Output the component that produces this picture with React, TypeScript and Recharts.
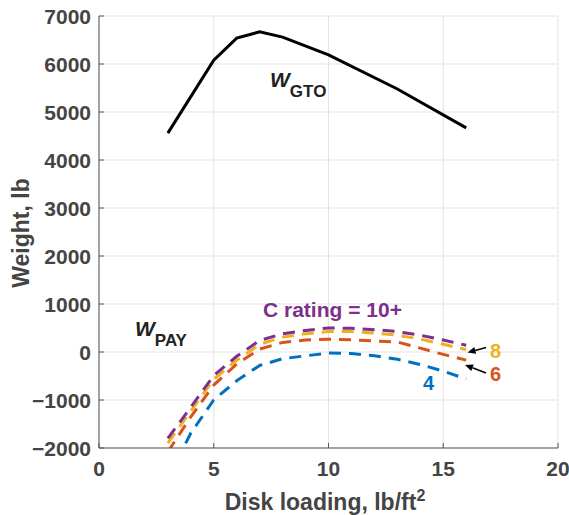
import { LineChart, Line, XAxis, YAxis, CartesianGrid } from "recharts";

// disk loading (lb/ft^2) sample points
const gtoLoading = [3, 5, 6, 7, 8, 10, 13, 16];
const payLoading = [3, 4, 5, 6, 7, 8, 9, 10, 11, 12, 13, 14, 15, 16];

// gross take-off weight, lb
const grossTakeoff = [4560, 6080, 6540, 6670, 6560, 6190, 5480, 4670];

// payload weight, lb, by C rating
const payRating10 = [-1800, -1150, -490, -90, 240, 380, 450, 500, 495, 465, 425, 350, 250, 140];
const payRating8 = [-1900, -1230, -570, -170, 160, 310, 380, 425, 425, 395, 350, 270, 160, 50];
const payRating6 = [-2080, -1350, -690, -250, 60, 200, 250, 265, 255, 230, 210, 80, -50, -170];
const payRating4 = [-2650, -1690, -1000, -600, -280, -140, -80, -20, -30, -80, -150, -260, -400, -560];

const xTicks = [0, 5, 10, 15, 20];
const yTicks = [-2000, -1000, 0, 1000, 2000, 3000, 4000, 5000, 6000, 7000];

const W = 569;
const H = 515;
const LEFT = 99;
const RIGHT = 558;
const TOP = 16;
const BOTTOM = 448;

const FONT = '"Liberation Sans", Arial, Helvetica, sans-serif';
const INK = "#444444";
const AXIS = "#555555";

const BLUE = "#0072BD";
const ORANGE = "#D95319";
const YELLOW = "#EDB120";
const PURPLE = "#7E2F8E";

const rows = (xs: number[], ys: number[]) => xs.map((x, i) => ({ x, w: ys[i] }));

const fmt = (v: number) => (v < 0 ? "\u2212" + Math.abs(v) : String(v));

function XTick({ x, payload }: any) {
  return (
    <g>
      <line x1={x} x2={x} y1={BOTTOM} y2={BOTTOM - 5} stroke={AXIS} strokeWidth={1} />
      <text x={x} y={476} textAnchor="middle" fontFamily={FONT} fontWeight="bold" fontSize={21} fill={INK}>
        {fmt(payload.value)}
      </text>
    </g>
  );
}

function YTick({ y, payload }: any) {
  return (
    <g>
      <line x1={LEFT} x2={LEFT + 5} y1={y} y2={y} stroke={AXIS} strokeWidth={1} />
      <text x={91} y={y} dy="0.36em" textAnchor="end" fontFamily={FONT} fontWeight="bold" fontSize={21} fill={INK}>
        {fmt(payload.value)}
      </text>
    </g>
  );
}

function Arrow({ x1, y1, x2, y2 }: { x1: number; y1: number; x2: number; y2: number }) {
  const a = Math.atan2(y2 - y1, x2 - x1);
  const len = 8;
  const half = 3.5;
  const bx = x2 - len * Math.cos(a);
  const by = y2 - len * Math.sin(a);
  const px = -Math.sin(a) * half;
  const py = Math.cos(a) * half;
  return (
    <g>
      <line x1={x1} y1={y1} x2={bx} y2={by} stroke="#000" strokeWidth={1.6} />
      <polygon points={`${x2},${y2} ${bx + px},${by + py} ${bx - px},${by - py}`} fill="#000" />
    </g>
  );
}

function Annotations() {
  const t = { fontFamily: FONT, fontWeight: "bold" as const };
  return (
    <svg width={W} height={H} style={{ position: "absolute", left: 0, top: 0, pointerEvents: "none" }}>
      <text transform="translate(28.5, 233) rotate(-90)" textAnchor="middle" fontSize={23} fill={INK} {...t}>
        Weight, lb
      </text>
      <text x={325} y={510} textAnchor="middle" fontSize={23} fill={INK} {...t}>
        Disk loading, lb/ft
        <tspan fontSize={16} dy={-9}>2</tspan>
      </text>

      <text x={270} y={87} fontSize={21} fill="#222" {...t}>
        <tspan fontStyle="italic">W</tspan>
        <tspan fontSize={17} dy={10}>GTO</tspan>
      </text>
      <text x={135} y={336} fontSize={21} fill="#222" {...t}>
        <tspan fontStyle="italic">W</tspan>
        <tspan fontSize={17} dy={10}>PAY</tspan>
      </text>

      <text x={263} y={317} fontSize={21} fill={PURPLE} {...t}>C rating = 10+</text>
      <text x={490} y={358} fontSize={20} fill={YELLOW} {...t}>8</text>
      <text x={490} y={381} fontSize={20} fill={ORANGE} {...t}>6</text>
      <text x={423} y={390} fontSize={20} fill={BLUE} {...t}>4</text>

      <Arrow x1={486} y1={347.5} x2={467.5} y2={352.5} />
      <Arrow x1={486} y1={373} x2={465} y2={365} />
    </svg>
  );
}

export default function App() {
  const dash = "12 8";
  return (
    <div style={{ position: "absolute", left: 0, top: 0, width: W, height: H, background: "#fff" }}>
      <LineChart
        width={W}
        height={H}
        margin={{ top: TOP, right: W - RIGHT, bottom: 0, left: 0 }}
      >
        <CartesianGrid stroke="#e3e3e3" strokeWidth={1} />
        <XAxis
          dataKey="x"
          type="number"
          domain={[0, 20]}
          ticks={xTicks}
          allowDataOverflow
          height={H - BOTTOM}
          stroke={AXIS}
          tickLine={false}
          tick={<XTick />}
        />
        <YAxis
          type="number"
          domain={[-2000, 7000]}
          ticks={yTicks}
          allowDataOverflow
          width={LEFT}
          stroke={AXIS}
          tickLine={false}
          tick={<YTick />}
        />
        <Line data={rows(gtoLoading, grossTakeoff)} dataKey="w" type="linear" stroke="#000" strokeWidth={3} dot={false} isAnimationActive={false} />
        <Line data={rows(payLoading, payRating4)} dataKey="w" type="linear" stroke={BLUE} strokeWidth={3} strokeDasharray={dash} dot={false} isAnimationActive={false} />
        <Line data={rows(payLoading, payRating6)} dataKey="w" type="linear" stroke={ORANGE} strokeWidth={3} strokeDasharray={dash} dot={false} isAnimationActive={false} />
        <Line data={rows(payLoading, payRating8)} dataKey="w" type="linear" stroke={YELLOW} strokeWidth={3} strokeDasharray={dash} dot={false} isAnimationActive={false} />
        <Line data={rows(payLoading, payRating10)} dataKey="w" type="linear" stroke={PURPLE} strokeWidth={3} strokeDasharray={dash} dot={false} isAnimationActive={false} />
      </LineChart>
      <Annotations />
    </div>
  );
}
